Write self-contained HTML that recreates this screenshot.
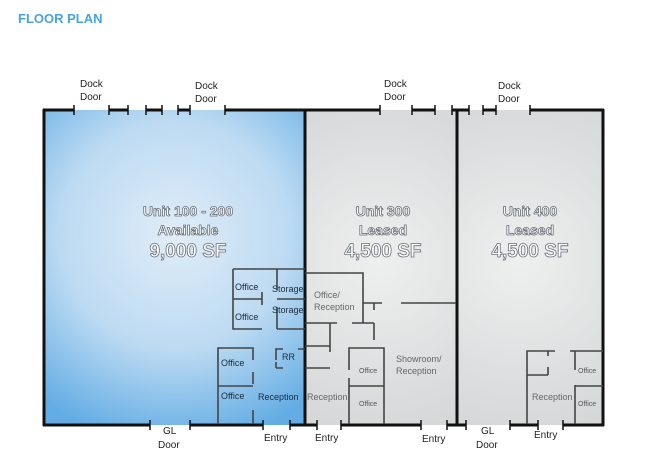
<!DOCTYPE html>
<html><head><meta charset="utf-8"><style>
html,body{margin:0;padding:0;background:#fff;}
svg{display:block;}
.l{font-family:"Liberation Sans",sans-serif;font-size:10px;fill:#222;}
.r{font-family:"Liberation Sans",sans-serif;font-size:9px;fill:#1b2a3a;}
.g{font-family:"Liberation Sans",sans-serif;font-size:9px;fill:#666;}
.s{font-family:"Liberation Sans",sans-serif;font-size:7px;fill:#555;}
.u{font-family:"Liberation Sans",sans-serif;font-weight:bold;fill:#fff;stroke:#6a7078;stroke-width:0.8;text-anchor:middle;}
</style></head><body>
<svg width="650" height="474" viewBox="0 0 650 474" xmlns="http://www.w3.org/2000/svg">
<defs>
<radialGradient id="b" cx="175" cy="235" r="210" gradientUnits="userSpaceOnUse">
<stop offset="0" stop-color="#e0edf8"/><stop offset="0.55" stop-color="#bcdaf2"/><stop offset="1" stop-color="#64ade4"/></radialGradient>
<radialGradient id="g" cx="380" cy="260" r="220" gradientUnits="userSpaceOnUse">
<stop offset="0" stop-color="#eeefef"/><stop offset="1" stop-color="#cfd1d2"/></radialGradient>
<radialGradient id="g2" cx="520" cy="260" r="220" gradientUnits="userSpaceOnUse">
<stop offset="0" stop-color="#eeefef"/><stop offset="1" stop-color="#cfd1d2"/></radialGradient>
</defs>
<text x="18" y="23" style="font-family:'Liberation Sans',sans-serif;font-weight:bold;font-size:13px;fill:#4aa3df">FLOOR PLAN</text>
<rect x="44" y="110" width="262" height="315" fill="url(#b)"/>
<rect x="306" y="110" width="151" height="315" fill="url(#g)"/>
<rect x="457" y="110" width="146" height="315" fill="url(#g2)"/>
<g stroke="#111" stroke-width="3" fill="none">
<line x1="44" y1="109" x2="44" y2="426"/>
<line x1="603" y1="109" x2="603" y2="426"/>
<line x1="305" y1="109" x2="305" y2="426"/>
<line x1="457" y1="109" x2="457" y2="426"/>
<line x1="43" y1="110" x2="74" y2="110"/>
<line x1="109" y1="110" x2="128" y2="110"/>
<line x1="146" y1="110" x2="162" y2="110"/>
<line x1="178" y1="110" x2="190" y2="110"/>
<line x1="225" y1="110" x2="380" y2="110"/>
<line x1="412" y1="110" x2="435" y2="110"/>
<line x1="452" y1="110" x2="469" y2="110"/>
<line x1="483" y1="110" x2="496" y2="110"/>
<line x1="530" y1="110" x2="604" y2="110"/>
<line x1="43" y1="425" x2="150" y2="425"/>
<line x1="190" y1="425" x2="263" y2="425"/>
<line x1="290" y1="425" x2="317" y2="425"/>
<line x1="341" y1="425" x2="421" y2="425"/>
<line x1="447" y1="425" x2="466" y2="425"/>
<line x1="510" y1="425" x2="538" y2="425"/>
<line x1="563" y1="425" x2="604" y2="425"/>
</g>
<g stroke="#111" stroke-width="1.5">
<path d="M74 105v10M109 105v10M128 105v10M146 105v10M162 105v10M178 105v10M190 105v10M225 105v10M380 105v10M412 105v10M435 105v10M452 105v10M469 105v10M483 105v10M496 105v10M530 105v10"/>
<path d="M150 420v10M190 420v10M263 420v10M290 420v10M317 420v10M341 420v10M421 420v10M447 420v10M466 420v10M510 420v10M538 420v10M563 420v10"/>
</g>
<g stroke="#444" stroke-width="1.6" fill="none">
<path d="M233 269V329H262M277 329H305M233 269H305M233 299H262M277 299H305M277 269V290M277 307V329M262 292V305"/>
<path d="M218 424V348H253V360M253 372V384M253 410V424M218 386H253"/>
<path d="M276 360V349H283M298 349H305M276 362V368M276 368H283"/>
<path d="M305 273H363V323M363 303H382M374 303V310M401 303H456M305 323H337M352 323H374M374 323V330M330 323V352M305 346H330M305 368H330"/>
<path d="M349 370V348H384V424M349 378V424M349 386H384M374 330V340"/>
<path d="M527 424V351H555M548 351V356M548 367V375M527 375H548M570 351H603M575 351V370M575 385V424M575 386H603"/>
</g>
<g class="u">
<text x="188" y="216" font-size="14">Unit 100 - 200</text>
<text x="188" y="235" font-size="14">Available</text>
<text x="188" y="257" font-size="19">9,000 SF</text>
<text x="383" y="216" font-size="14">Unit 300</text>
<text x="383" y="235" font-size="14">Leased</text>
<text x="383" y="257" font-size="19">4,500 SF</text>
<text x="530" y="216" font-size="14">Unit 400</text>
<text x="530" y="235" font-size="14">Leased</text>
<text x="530" y="257" font-size="19">4,500 SF</text>
</g>
<text class="l" x="80" y="87">Dock</text><text class="l" x="80" y="100">Door</text>
<text class="l" x="195" y="89">Dock</text><text class="l" x="195" y="102">Door</text>
<text class="l" x="384" y="87">Dock</text><text class="l" x="384" y="100">Door</text>
<text class="l" x="498" y="89">Dock</text><text class="l" x="498" y="102">Door</text>
<text class="l" x="163" y="434">GL</text><text class="l" x="158" y="448">Door</text>
<text class="l" x="264" y="441">Entry</text>
<text class="l" x="315" y="441">Entry</text>
<text class="l" x="422" y="442">Entry</text>
<text class="l" x="481" y="434">GL</text><text class="l" x="476" y="448">Door</text>
<text class="l" x="534" y="438">Entry</text>
<text class="r" x="235" y="290">Office</text>
<text class="r" x="272" y="292">Storage</text>
<text class="r" x="272" y="313">Storage</text>
<text class="r" x="235" y="320">Office</text>
<text class="r" x="221" y="366">Office</text>
<text class="r" x="282" y="360">RR</text>
<text class="r" x="221" y="399">Office</text>
<text class="r" x="258" y="400">Reception</text>
<text class="g" x="314" y="298">Office/</text>
<text class="g" x="314" y="310">Reception</text>
<text class="g" x="396" y="362">Showroom/</text>
<text class="g" x="396" y="374">Reception</text>
<text class="g" x="307" y="400">Reception</text>
<text class="s" x="359" y="373">Office</text>
<text class="s" x="359" y="406">Office</text>
<text class="g" x="532" y="400">Reception</text>
<text class="s" x="578" y="373">Office</text>
<text class="s" x="578" y="406">Office</text>
</svg>
</body></html>
